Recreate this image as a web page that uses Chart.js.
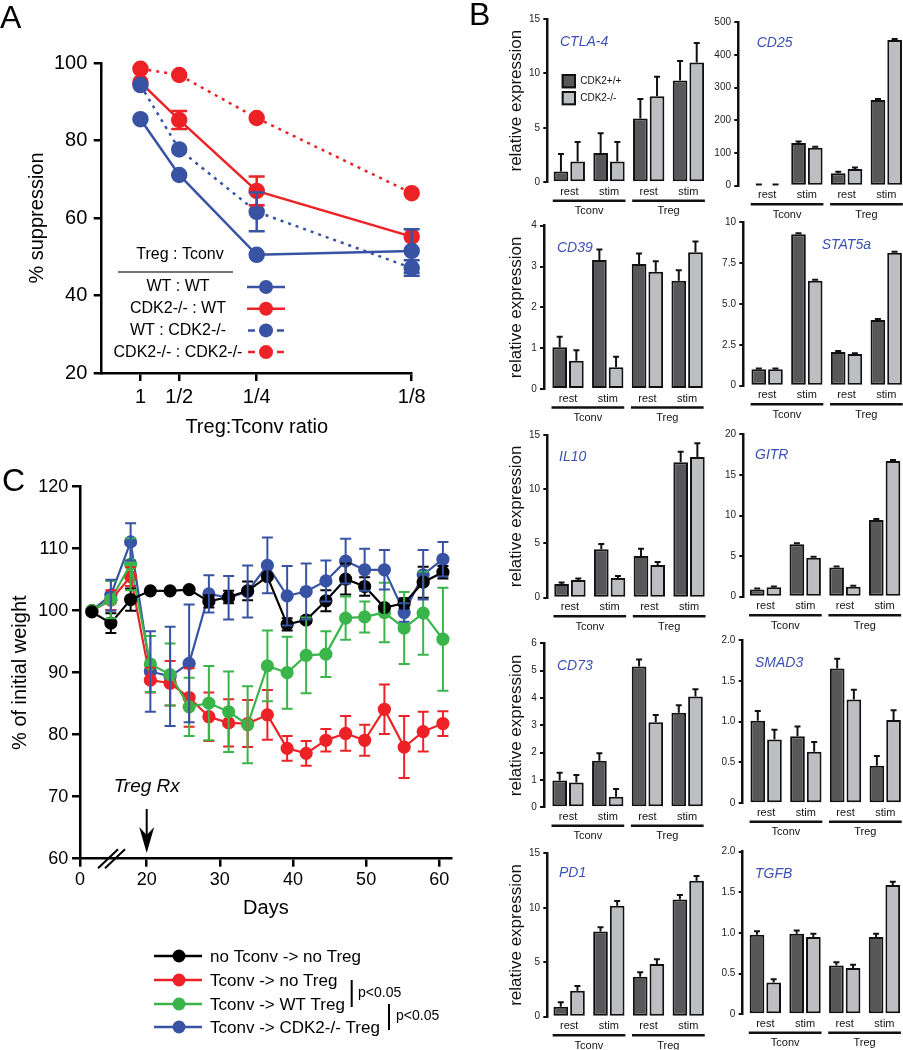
<!DOCTYPE html>
<html>
<head>
<meta charset="utf-8">
<title>CDK2 Treg figure</title>
<script src="https://cdn.jsdelivr.net/npm/chart.js@4.4.1/dist/chart.umd.min.js"></script>
<style>
  html, body { margin: 0; padding: 0; background: #fff; }
  body { position: relative; width: 903px; height: 1050px; overflow: hidden; }
  canvas { position: absolute; }
  .panel { position: absolute; z-index: 5; font: 32px "Liberation Sans", Arial, sans-serif; line-height: 1; color: #000; }
</style>
</head>
<body>
<div class="panel" style="left:0px;top:1px">A</div>
<div class="panel" style="left:469px;top:-2px">B</div>
<div class="panel" style="left:2px;top:464px">C</div>
<script>
//-------------
//- DATA A    -
//-------------
var ratioX = [1, 2, 4, 8];
var ratioLabels = ['1', '1/2', '1/4', '1/8'];
var supLabels = ['WT : WT', 'CDK2-/- : WT', 'WT : CDK2-/-', 'CDK2-/- : CDK2-/-'];
var supWtWt = [85.5, 71.1, 50.5, 51.5];
var supWtWtErr = [0, 0, 0, 5.6];
var supKoWt = [95.0, 85.3, 67.0, 55.2];
var supKoWtErr = [0, 2.3, 3.7, 0];
var supWtKo = [94.3, 77.7, 61.6, 47.1];
var supWtKoErr = [0, 0, 5.0, 2.0];
var supKoKo = [98.5, 96.9, 85.8, 66.4];
var supKoKoErr = [0, 0, 0, 0];

//-------------
//- DATA C    -
//-------------
var days = [12.5, 15.1, 17.8, 20.5, 23.2, 25.8, 28.5, 31.2, 33.8, 36.5, 39.2, 41.8, 44.5, 47.2, 49.8, 52.5, 55.2, 57.8, 60.5];
var dayTicks = [10.88, 20, 30, 40, 50, 60]; // axis is broken, first tick is the "0" origin
var treatDay = 20;
var weightLabels = ['no Tconv -> no Treg', 'Tconv -> no Treg', 'Tconv -> WT Treg', 'Tconv -> CDK2-/- Treg'];
var wNone = [99.8, 98.0, 101.8, 103.2, 103.2, 103.4, 101.5, 102.2, 103.2, 105.5, 97.8, 98.5, 101.6, 105.1, 103.9, 100.5, 101.2, 104.6, 106.2];
var wNoneErr = [0, 1.6, 1.8, 0, 0, 0, 1.0, 1.0, 1.5, 0, 1.0, 0.5, 1.7, 2.5, 1.5, 0, 0.8, 2.5, 1.0];
var wNoTreg = [100, 101.7, 105.5, 88.8, 88.3, 86.0, 82.9, 81.9, 81.8, 83.2, 77.8, 77.0, 79.1, 80.2, 79.1, 84.1, 78.0, 80.5, 81.8];
var wNoTregErr = [0, 1.6, 1.5, 2.0, 3.6, 4.7, 3.9, 3.8, 3.8, 4.0, 2.0, 2.0, 1.8, 2.8, 2.5, 4.0, 5.0, 3.2, 2.0];
var wWtTreg = [100, 101.8, 107.5, 91.4, 89.7, 84.5, 85.1, 83.7, 81.6, 91.1, 90.0, 92.8, 93.0, 98.8, 99.0, 99.7, 97.2, 99.6, 95.4];
var wWtTregErr = [0, 3.0, 4.2, 4.5, 5.0, 4.7, 6.0, 6.5, 6.2, 5.7, 5.8, 6.1, 3.7, 3.5, 2.5, 4.8, 5.8, 6.7, 8.3];
var wKoTreg = [100, 102.5, 111.1, 90.2, 89.4, 91.5, 102.7, 102.1, 103.1, 107.3, 102.4, 103.1, 104.8, 108.0, 106.6, 106.6, 99.7, 105.8, 108.3];
var wKoTregErr = [0, 2.5, 3.0, 6.5, 8.0, 9.5, 3.0, 3.5, 4.2, 4.5, 4.8, 4.5, 3.3, 3.6, 3.4, 3.2, 1.5, 4.0, 2.8];

//-------------
//- DATA B    -
//-------------
var condLabels = ['rest', 'stim', 'rest', 'stim'];
var cellLabels = ['Tconv', 'Treg'];
var genoLabels = ['CDK2+/+', 'CDK2-/-'];
var ctla4Wt = [1.0, 2.7, 5.85, 9.35],  ctla4Ko = [1.9, 1.9, 7.9, 11.0];
var ctla4WtErr = [1.6, 1.8, 1.8, 1.8], ctla4KoErr = [1.8, 1.8, 1.8, 1.8];
var cd25Wt = [3, 131, 38, 262],        cd25Ko = [3, 116, 51, 446];
var cd25WtErr = [1, 4, 5, 3],          cd25KoErr = [1, 3, 5, 3];
var cd39Wt = [1.02, 3.16, 3.06, 2.65], cd39Ko = [0.69, 0.53, 2.87, 3.35];
var cd39WtErr = [0.26, 0.26, 0.26, 0.26], cd39KoErr = [0.26, 0.26, 0.26, 0.26];
var stat5Wt = [1.0, 9.27, 2.06, 4.02], stat5Ko = [1.0, 6.43, 1.94, 8.14];
var stat5WtErr = [0.05, 0.06, 0.06, 0.06], stat5KoErr = [0.05, 0.05, 0.05, 0.06];
var il10Wt = [1.26, 4.46, 3.84, 12.48], il10Ko = [1.63, 1.81, 3.01, 12.97];
var il10WtErr = [0.15, 0.49, 0.68, 0.98], il10KoErr = [0.15, 0.19, 0.28, 1.26];
var gitrWt = [0.9, 6.45, 3.6, 9.45],   gitrKo = [1.15, 4.8, 1.23, 16.7];
var gitrWtErr = [0.12, 0.12, 0.12, 0.12], gitrKoErr = [0.12, 0.12, 0.12, 0.12];
var cd73Wt = [0.98, 1.70, 5.15, 3.46], cd73Ko = [0.91, 0.39, 3.11, 4.05];
var cd73WtErr = [0.28, 0.28, 0.26, 0.27], cd73KoErr = [0.27, 0.28, 0.27, 0.27];
var smad3Wt = [1.01, 0.82, 1.65, 0.46], smad3Ko = [0.78, 0.63, 1.27, 1.02];
var smad3WtErr = [0.12, 0.12, 0.12, 0.12], smad3KoErr = [0.12, 0.12, 0.12, 0.12];
var pd1Wt = [0.92, 7.81, 3.67, 10.77], pd1Ko = [2.39, 10.19, 4.84, 12.49];
var pd1WtErr = [0.4, 0.4, 0.4, 0.4],   pd1KoErr = [0.43, 0.43, 0.43, 0.43];
var tgfbWt = [0.98, 0.99, 0.60, 0.95], tgfbKo = [0.39, 0.95, 0.57, 1.59];
var tgfbWtErr = [0.04, 0.04, 0.04, 0.04], tgfbKoErr = [0.04, 0.04, 0.04, 0.04];

//-------------
//- STYLE     -
//-------------
var FONT = '"Liberation Sans", Arial, Helvetica, sans-serif';
var blue = '#3953a4', red = '#ec2227', green = '#3ab54a', black = '#000000';
var darkBar = '#58585a', lightBar = '#bdbec1', geneColor = '#3b50b5';

Chart.defaults.font.family = FONT;
Chart.defaults.color = '#000';
Chart.defaults.animation = false;
Chart.defaults.responsive = false;
Chart.defaults.events = [];
Chart.defaults.plugins.legend.display = false;
Chart.defaults.plugins.tooltip.enabled = false;

function pts(xs, ys) {
  return xs.map(function (x, i) { return {x: x, y: ys[i]} });
}

function makeCanvas(left, top, w, h) {
  var c = document.createElement('canvas');
  c.width = w; c.height = h;
  c.style.left = left + 'px';
  c.style.top = top + 'px';
  document.body.appendChild(c);
  return c.getContext('2d');
}

// error bars drawn from dataset.errs through the y scale
var errorBars = {
  id: 'errorBars',
  afterDatasetsDraw: function (chart) {
    var ctx = chart.ctx, ys = chart.scales.y;
    chart.data.datasets.forEach(function (ds, i) {
      if (!ds.errs) return;
      var meta = chart.getDatasetMeta(i);
      ctx.save();
      ctx.setLineDash([]);
      ctx.strokeStyle = ds.borderColor;
      ctx.lineWidth = ds.errWidth || 2;
      meta.data.forEach(function (el, j) {
        var e = ds.errs[j];
        if (!e) return;
        var v = ds.data[j].y;
        var top = ys.getPixelForValue(v + e);
        var bot = ds.oneSided ? el.y : ys.getPixelForValue(v - e);
        var cw = ds.capW;
        ctx.beginPath();
        ctx.moveTo(el.x, top); ctx.lineTo(el.x, bot);
        ctx.moveTo(el.x - cw, top); ctx.lineTo(el.x + cw, top);
        if (!ds.oneSided) { ctx.moveTo(el.x - cw, bot); ctx.lineTo(el.x + cw, bot); }
        ctx.stroke();
      });
      ctx.restore();
    });
  }
};
Chart.register(errorBars);

//-------------
//- PANEL A   -
//-------------
function supSet(i, vals, errs, color, dash, order) {
  return {
    label: supLabels[i], data: pts(ratioX, vals), errs: errs, capW: 8, errWidth: 2.5,
    borderColor: color, backgroundColor: color, pointBackgroundColor: color, pointBorderColor: color,
    pointRadius: 7, borderWidth: 2.5, borderDash: dash, order: order, clip: false, tension: 0
  };
}

var aLegend = {
  id: 'aLegend',
  afterDraw: function (chart) {
    var ctx = chart.ctx;
    ctx.save();
    ctx.font = '16px ' + FONT;
    ctx.fillStyle = '#000'; ctx.textAlign = 'center'; ctx.textBaseline = 'middle';
    ctx.fillText('Treg : Tconv', 180, 255);
    ctx.strokeStyle = '#777'; ctx.lineWidth = 2;
    ctx.beginPath(); ctx.moveTo(118, 272); ctx.lineTo(233, 272); ctx.stroke();
    chart.data.datasets.forEach(function (ds, i) {
      var y = 287 + i * 21.7;
      ctx.fillStyle = '#000';
      ctx.fillText(ds.label, 178, y);
      ctx.strokeStyle = ds.borderColor; ctx.lineWidth = 2.5;
      ctx.beginPath();
      if (ds.borderDash.length) {
        ctx.moveTo(248, y); ctx.lineTo(255, y);
        ctx.moveTo(277, y); ctx.lineTo(284, y);
      } else {
        ctx.moveTo(247, y); ctx.lineTo(285, y);
      }
      ctx.stroke();
      ctx.fillStyle = ds.borderColor;
      ctx.beginPath(); ctx.arc(266, y, 7, 0, Math.PI * 2); ctx.fill();
    });
    ctx.restore();
  }
};

new Chart(makeCanvas(0, 0, 460, 445), {
  type: 'line',
  data: {
    datasets: [
      supSet(0, supWtWt, supWtWtErr, blue, [], 1),
      supSet(1, supKoWt, supKoWtErr, red, [], 3),
      supSet(2, supWtKo, supWtKoErr, blue, [3, 5], 0),
      supSet(3, supKoKo, supKoKoErr, red, [3, 5], 2)
    ]
  },
  options: {
    layout: {padding: {left: 0, top: 63, right: 48.3, bottom: 0}},
    scales: {
      x: {
        type: 'linear', min: 0, max: 8,
        afterBuildTicks: function (s) { s.ticks = ratioX.map(function (v) { return {value: v} }) },
        afterFit: function (s) { s.height = 72 },
        ticks: {font: {size: 20}, padding: 4, callback: function (v) { return ratioLabels[ratioX.indexOf(v)] }},
        grid: {drawOnChartArea: false, tickLength: 8, color: '#000', lineWidth: 2.5},
        border: {color: '#000', width: 2.5},
        title: {display: true, text: 'Treg:Tconv ratio', font: {size: 20}, padding: {top: 0, bottom: 6}}
      },
      y: {
        min: 20, max: 100,
        afterFit: function (s) { s.width = 101.7 },
        ticks: {stepSize: 20, font: {size: 20}, padding: 6.4},
        grid: {drawOnChartArea: false, tickLength: 8, color: '#000', lineWidth: 2.5},
        border: {color: '#000', width: 2.5},
        title: {display: true, text: '% suppression', font: {size: 20}, padding: {top: 25, bottom: 0}}
      }
    }
  },
  plugins: [aLegend]
});

//-------------
//- PANEL C   -
//-------------
function weightSet(i, vals, errs, color, order) {
  return {
    label: weightLabels[i], data: pts(days, vals), errs: errs, capW: 5.5, errWidth: 2,
    borderColor: color, backgroundColor: color, pointBackgroundColor: color, pointBorderColor: color,
    pointRadius: 5.5, borderWidth: 2.2, order: order, clip: false, tension: 0
  };
}

var C_TOP = 440;
var cExtras = {
  id: 'cExtras',
  afterDraw: function (chart) {
    var ctx = chart.ctx, xs = chart.scales.x, area = chart.chartArea;
    ctx.save();
    // axis break
    ctx.strokeStyle = '#000'; ctx.lineWidth = 2;
    ctx.beginPath();
    ctx.moveTo(98, area.bottom + 9.5); ctx.lineTo(118, area.bottom - 9.5);
    ctx.moveTo(105, area.bottom + 9.5); ctx.lineTo(125, area.bottom - 9.5);
    ctx.stroke();
    // treatment arrow
    var ax = xs.getPixelForValue(treatDay);
    ctx.fillStyle = '#000';
    ctx.font = 'italic 19px ' + FONT;
    ctx.textAlign = 'center'; ctx.textBaseline = 'middle';
    ctx.fillText('Treg Rx', ax, 786.7 - C_TOP);
    ctx.lineWidth = 2;
    ctx.beginPath(); ctx.moveTo(ax, 809 - C_TOP); ctx.lineTo(ax, 838 - C_TOP); ctx.stroke();
    ctx.beginPath();
    ctx.moveTo(ax, 853 - C_TOP);
    ctx.lineTo(ax - 7.5, 827 - C_TOP);
    ctx.lineTo(ax, 835 - C_TOP);
    ctx.lineTo(ax + 7.5, 827 - C_TOP);
    ctx.closePath(); ctx.fill();
    // legend
    var ly = [956, 980, 1004, 1027];
    ctx.font = '17px ' + FONT;
    ctx.textAlign = 'left';
    chart.data.datasets.forEach(function (ds, i) {
      var y = ly[i] - C_TOP;
      ctx.strokeStyle = ds.borderColor; ctx.lineWidth = 2.5;
      ctx.beginPath(); ctx.moveTo(154, y); ctx.lineTo(202, y); ctx.stroke();
      ctx.fillStyle = ds.borderColor;
      ctx.beginPath(); ctx.arc(179, y, 6.5, 0, Math.PI * 2); ctx.fill();
      ctx.fillStyle = '#000';
      ctx.fillText(ds.label, 210, y + 1);
    });
    // significance brackets
    ctx.strokeStyle = '#000'; ctx.lineWidth = 2;
    ctx.beginPath();
    ctx.moveTo(351.7, 980 - C_TOP); ctx.lineTo(351.7, 1007 - C_TOP);
    ctx.moveTo(389, 1004 - C_TOP); ctx.lineTo(389, 1030 - C_TOP);
    ctx.stroke();
    ctx.font = '14px ' + FONT;
    ctx.fillText('p<0.05', 358, 993 - C_TOP);
    ctx.fillText('p<0.05', 396, 1016 - C_TOP);
    ctx.restore();
  }
};

new Chart(makeCanvas(0, C_TOP, 460, 610), {
  type: 'line',
  data: {
    datasets: [
      weightSet(0, wNone, wNoneErr, black, 0),
      weightSet(1, wNoTreg, wNoTregErr, red, 2),
      weightSet(2, wWtTreg, wWtTregErr, green, 1),
      weightSet(3, wKoTreg, wKoTregErr, blue, 3)
    ]
  },
  options: {
    layout: {padding: {left: 0, top: 46.7, right: 8.3, bottom: 0}},
    scales: {
      x: {
        type: 'linear', min: dayTicks[0], max: 61.7,
        afterBuildTicks: function (s) { s.ticks = dayTicks.map(function (v) { return {value: v} }) },
        afterFit: function (s) { s.height = 191.3 },
        ticks: {font: {size: 18}, padding: 2.5, callback: function (v) { return v < 15 ? '0' : v }},
        grid: {drawOnChartArea: false, tickLength: 8, color: '#000', lineWidth: 2.5},
        border: {color: '#000', width: 2.5},
        title: {display: true, text: 'Days', font: {size: 20}, padding: {top: 0, bottom: 130}}
      },
      y: {
        min: 60, max: 120,
        afterFit: function (s) { s.width = 80 },
        ticks: {stepSize: 10, font: {size: 18}, padding: 3.7},
        grid: {drawOnChartArea: false, tickLength: 8, color: '#000', lineWidth: 2.5},
        border: {color: '#000', width: 2.5},
        title: {display: true, text: '% of initial weight', font: {size: 20}, padding: {top: 8, bottom: 0}}
      }
    }
  },
  plugins: [cExtras]
});

//-------------
//- PANEL B   -
//-------------
var GROUP_PX = 39.7;
var groupX = [1, 2, 3, 4];
var bCharts = [
  {gene: 'CTLA-4', wt: ctla4Wt, ko: ctla4Ko, wtErr: ctla4WtErr, koErr: ctla4KoErr, max: 15, step: 5,
   axisX: 547.3, topY: 19, zeroY: 182.3, xMin: 0.446, name: [560, 42], title: true, legend: true},
  {gene: 'CD25', wt: cd25Wt, ko: cd25Ko, wtErr: cd25WtErr, koErr: cd25KoErr, max: 500, step: 100,
   axisX: 738.3, topY: 22.3, zeroY: 185.7, xMin: 0.272, name: [756.7, 43]},
  {gene: 'CD39', wt: cd39Wt, ko: cd39Ko, wtErr: cd39WtErr, koErr: cd39KoErr, max: 4, step: 1,
   axisX: 544, topY: 225.7, zeroY: 389, xMin: 0.395, name: [557, 247.7], title: true},
  {gene: 'STAT5a', wt: stat5Wt, ko: stat5Ko, wtErr: stat5WtErr, koErr: stat5KoErr, max: 10, step: 2.5,
   axisX: 743.3, topY: 222.3, zeroY: 385.7, xMin: 0.40, name: [821.7, 245]},
  {gene: 'IL10', wt: il10Wt, ko: il10Ko, wtErr: il10WtErr, koErr: il10KoErr, max: 15, step: 5,
   axisX: 547.3, topY: 435, zeroY: 597.7, xMin: 0.43, name: [559, 456.7], title: true},
  {gene: 'GITR', wt: gitrWt, ko: gitrKo, wtErr: gitrWtErr, koErr: gitrKoErr, max: 20, step: 5,
   axisX: 743.3, topY: 434.3, zeroY: 596.7, xMin: 0.44, name: [755, 455]},
  {gene: 'CD73', wt: cd73Wt, ko: cd73Ko, wtErr: cd73WtErr, koErr: cd73KoErr, max: 6, step: 1,
   axisX: 544, topY: 643.3, zeroY: 807.3, xMin: 0.395, name: [557, 666], title: true},
  {gene: 'SMAD3', wt: smad3Wt, ko: smad3Ko, wtErr: smad3WtErr, koErr: smad3KoErr, max: 2, step: 0.5,
   axisX: 742.7, topY: 640, zeroY: 803.3, xMin: 0.41, name: [755, 663.3]},
  {gene: 'PD1', wt: pd1Wt, ko: pd1Ko, wtErr: pd1WtErr, koErr: pd1KoErr, max: 15, step: 5,
   axisX: 547.3, topY: 853.3, zeroY: 1016.7, xMin: 0.45, name: [559, 873.3], title: true},
  {gene: 'TGFB', wt: tgfbWt, ko: tgfbKo, wtErr: tgfbWtErr, koErr: tgfbKoErr, max: 2, step: 0.5,
   axisX: 742.7, topY: 851.7, zeroY: 1014.3, xMin: 0.43, name: [755, 874.3]}
];

function tickFmt(v, step) {
  if (v === 0) return '0';
  if (step % 1 === 0 || v >= 10) return String(v);
  return v.toFixed(1);
}

var bExtras = {
  id: 'bExtras',
  afterDraw: function (chart, args, o) {
    var ctx = chart.ctx, xs = chart.scales.x, z = chart.chartArea.bottom;
    ctx.save();
    ctx.fillStyle = '#111'; ctx.textAlign = 'center'; ctx.textBaseline = 'middle';
    ctx.font = '11px ' + FONT;
    condLabels.forEach(function (t, i) { ctx.fillText(t, xs.getPixelForValue(groupX[i]), z + 9.5) });
    ctx.strokeStyle = '#111'; ctx.lineWidth = 2.5;
    cellLabels.forEach(function (t, g) {
      var a = xs.getPixelForValue(groupX[2 * g]) - 16.5, b = xs.getPixelForValue(groupX[2 * g + 1]) + 16.5;
      ctx.beginPath(); ctx.moveTo(a, z + 18.5); ctx.lineTo(b, z + 18.5); ctx.stroke();
      ctx.fillText(t, (a + b) / 2, z + 29);
    });
    ctx.font = 'italic 14px ' + FONT;
    ctx.fillStyle = geneColor; ctx.textAlign = 'left';
    ctx.fillText(o.gene, o.nameX, o.nameY);
    if (o.legend) {
      ctx.font = '10px ' + FONT;
      [darkBar, lightBar].forEach(function (col, i) {
        var y = o.legY + i * 17;
        ctx.fillStyle = col; ctx.fillRect(o.legX, y, 14.3, 14.3);
        ctx.strokeStyle = '#111'; ctx.lineWidth = 2;
        ctx.strokeRect(o.legX + 1, y + 1, 12.3, 12.3);
        ctx.fillStyle = '#111';
        ctx.fillText(genoLabels[i], o.legX + 18.5, y + 7.5);
      });
    }
    ctx.restore();
  }
};

bCharts.forEach(function (b) {
  var L = Math.floor(b.axisX - 75), T = Math.floor(b.topY - 12);
  var W = 245, H = Math.ceil(b.zeroY - T + 45);
  var yW = b.axisX - L, areaW = W - yW;
  function barSet(vals, errs, col) {
    return {
      data: vals.map(function (v, i) { return {x: groupX[i], y: v} }), errs: errs, capW: 3, oneSided: true, errWidth: 2,
      backgroundColor: col, borderColor: '#111', borderWidth: 2, borderSkipped: false,
      categoryPercentage: 0.84, barPercentage: 0.88
    };
  }
  new Chart(makeCanvas(L, T, W, H), {
    type: 'bar',
    data: {datasets: [barSet(b.wt, b.wtErr, darkBar), barSet(b.ko, b.koErr, lightBar)]},
    options: {
      layout: {padding: {left: 0, top: b.topY - T, right: 0, bottom: H - (b.zeroY - T)}},
      plugins: {
        bExtras: {
          gene: b.gene, nameX: b.name[0] - L, nameY: b.name[1] - T,
          legend: !!b.legend, legX: 561.7 - L, legY: 74 - T
        }
      },
      scales: {
        x: {type: 'linear', display: false, offset: false, bounds: 'data', grid: {offset: false},
            min: b.xMin, max: b.xMin + areaW / GROUP_PX,
            afterBuildTicks: function (s) { s.ticks = groupX.map(function (v) { return {value: v} }) }},
        y: {
          min: 0, max: b.max,
          afterFit: function (s) { s.width = yW },
          ticks: {stepSize: b.step, font: {size: 10}, color: '#222', padding: 3.3,
                  callback: function (v) { return tickFmt(v, b.step) }},
          grid: {drawOnChartArea: false, tickLength: 4, color: '#111', lineWidth: 2},
          border: {color: '#111', width: 2.5},
          title: {display: !!b.title, text: 'relative expression', font: {size: 17}, color: '#111',
                  padding: {top: 516.7 - L - 10.2, bottom: 0}}
        }
      }
    },
    plugins: [bExtras]
  });
});
</script>
</body>
</html>
